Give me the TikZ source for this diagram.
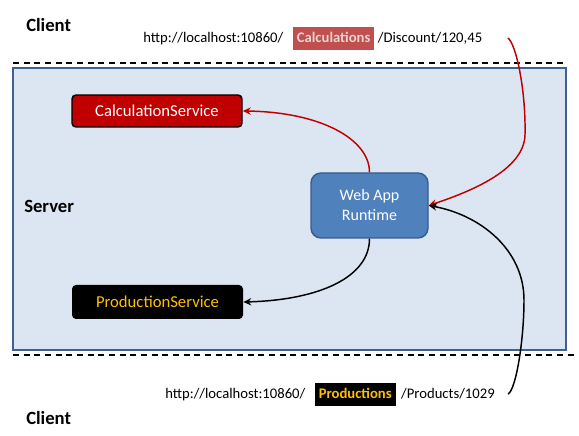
\documentclass[tikz,border=0pt]{standalone}
\usepackage{fontspec}
\setmainfont{Carlito}
\usetikzlibrary{arrows.meta,positioning}
\definecolor{srvfill}{HTML}{DCE6F2}
\definecolor{srvline}{HTML}{41608C}
\definecolor{calcred}{HTML}{C00000}
\definecolor{calclight}{HTML}{C0504D}
\definecolor{calctext}{HTML}{EBD2D2}
\definecolor{prodgold}{HTML}{FFC000}
\definecolor{appblue}{HTML}{4F81BD}
\definecolor{appline}{HTML}{385D8A}

\begin{document}
\begin{tikzpicture}[x=0.75pt, y=0.75pt, >={Stealth[length=6pt,width=5.5pt,inset=2pt]},
  service/.style={rounded corners=3pt, minimum width=127.5pt, font=\fontsize{12.5}{15}\selectfont},
  zonename/.style={font=\fontsize{14}{17}\selectfont\bfseries, inner sep=0, anchor=base west},
  urltext/.style={font=\fontsize{11}{13}\selectfont, inner sep=0},
  urltag/.style={font=\fontsize{11}{13}\selectfont\bfseries, inner xsep=3pt, inner ysep=0, text height=12pt, text depth=5.25pt},
  zoneline/.style={black, line width=1.5pt, dash pattern=on 4.5pt off 3.5pt},
  call/.style={->, line width=1.1pt}]
	\useasboundingbox (0,0) rectangle (579,436);
	\draw[srvline, fill=srvfill, line width=1.5pt] (13,86) rectangle (566,368);
	\draw[zoneline] (13,373) -- (567,373);
	\draw[zoneline] (13,81) -- (578,81);
	\node[zonename] (client1) at (26,404) {Client};
	\node[zonename] (server)  at (24,223) {Server};
	\node[zonename] (client2) at (26,12)  {Client};
	\node[service, minimum height=24pt, fill=calcred, draw=black, line width=1.1pt, text=white] (calc) at (157,325) {CalculationService};
	\node[service, minimum width=128.25pt, minimum height=25.5pt, fill=black, text=prodgold] (prod) at (157.5,134) {ProductionService};
	\node[rounded corners=7.5pt, minimum width=87.75pt, minimum height=48.75pt, fill=appblue, draw=appline, line width=1.1pt,
	      text=white, align=center, font=\fontsize{12}{15}\selectfont] (web) at (369.5,230.5) {Web App\\Runtime};
	% request urls
	\node[urltext, anchor=base west] (url1) at (143,393) {http://localhost:10860/};
	\node[urltag, fill=calclight, text=calctext, base right=6.75pt of url1] (calctag) {Calculations};
	\node[urltext, base right=2.25pt of calctag] (disc) {/Discount/120,45};
	\node[urltext, anchor=base west] (url2) at (165,37) {http://localhost:10860/};
	\node[urltag, fill=black, text=prodgold, base right=6.75pt of url2] (prodtag) {Productions};
	\node[urltext, base right=3.75pt of prodtag] (prods) {/Products/1029};
	\coordinate (r0) at (508,398);
	\coordinate (b0) at (508,42);
	\draw[call, calcred] (r0) .. controls +(8,-6) and +(1,45) .. (525,301) .. controls +(-1,-35) and +(42,14) .. (web.east);
	\draw[call] (b0) .. controls +(8,4) and +(0,-40) .. (524,136) .. controls +(0,50) and +(52,-9.5) .. (web.east);
	\draw[call, calcred] (web.north) .. controls +(0,33) and +(78,-1) .. (calc.east);
	\draw[call] (web.south) .. controls +(0,-38) and +(77,2) .. (prod.east);
\end{tikzpicture}
\end{document}
